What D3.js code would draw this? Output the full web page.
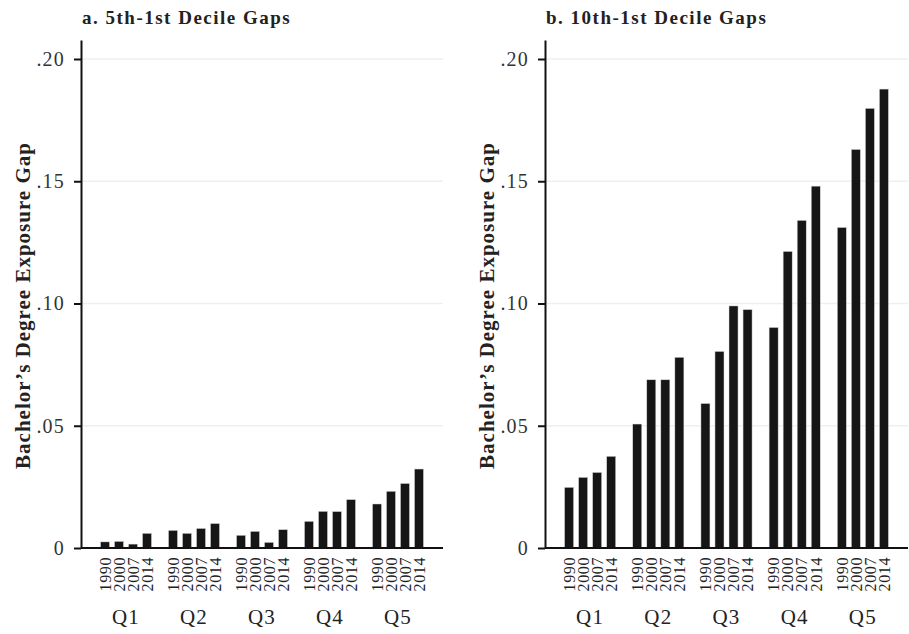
<!DOCTYPE html>
<html>
<head>
<meta charset="utf-8">
<script src="https://cdn.jsdelivr.net/npm/d3@7"></script>
<style>
  body { margin: 0; background: #fff; }
  svg { display: block; }
  text { font-family: "Liberation Serif", "DejaVu Serif", serif; }
</style>
</head>
<body>
<svg id="chart" width="909" height="634"></svg>
<script>
// ---- Data ----
const quintiles = ["Q1", "Q2", "Q3", "Q4", "Q5"];
const years = ["1990", "2000", "2007", "2014"];
const yTicks = [0, 0.05, 0.10, 0.15, 0.20];
const yTickLabels = ["0", ".05", ".10", ".15", ".20"];
const panelTitles = ["a. 5th-1st Decile Gaps", "b. 10th-1st Decile Gaps"];
const yAxisTitle = "Bachelor\u2019s Degree Exposure Gap";

// 5th-1st decile gaps: rows = quintiles, cols = years
const gap5th1st = [
  [0.0025, 0.0027, 0.0016, 0.0060],
  [0.0072, 0.0060, 0.0080, 0.0100],
  [0.0052, 0.0068, 0.0023, 0.0075],
  [0.0109, 0.0150, 0.0149, 0.0198],
  [0.0180, 0.0232, 0.0264, 0.0323]
];
// 10th-1st decile gaps
const gap10th1st = [
  [0.0248, 0.0289, 0.0309, 0.0375],
  [0.0507, 0.0688, 0.0688, 0.0780],
  [0.0591, 0.0804, 0.0990, 0.0975],
  [0.0902, 0.1213, 0.1340, 0.1480],
  [0.1311, 0.1630, 0.1798, 0.1877]
];

const svg = d3.select("#chart");

function drawPanel(opts) {
  const { left, right, data, title } = opts;
  const top = 40, bottom = 548, y20 = 59;
  const yMax = 0.2 * (bottom - top) / (bottom - y20);
  const y = d3.scaleLinear().domain([0, yMax]).range([bottom, top]);

  const g = svg.append("g");

  // gridlines
  g.selectAll("line.grid")
    .data(yTicks.filter(d => d > 0))
    .join("line")
    .attr("x1", left + 1).attr("x2", right)
    .attr("y1", d => y(d)).attr("y2", d => y(d))
    .attr("stroke", "#efefef").attr("stroke-width", 1.5);

  const x0 = d3.scaleBand().domain(quintiles).range([left, right])
    .paddingInner(0.25).paddingOuter(0.287);
  const x1 = d3.scaleBand().domain(years).range([0, x0.bandwidth()])
    .paddingInner(5 / 14).paddingOuter(0);

  // bars
  const groups = g.selectAll("g.grp")
    .data(quintiles)
    .join("g")
    .attr("transform", d => `translate(${x0(d)},0)`);
  groups.selectAll("rect")
    .data((q, i) => years.map((yr, j) => ({ yr, v: data[i][j] })))
    .join("rect")
    .attr("x", d => x1(d.yr))
    .attr("width", x1.bandwidth())
    .attr("y", d => y(d.v))
    .attr("height", d => y(0) - y(d.v))
    .attr("fill", "#161616")
    .attr("stroke", "#d8d8d8").attr("stroke-width", 0.5);

  // year labels (rotated)
  groups.selectAll("text.yr")
    .data(years)
    .join("text")
    .attr("class", "yr")
    .attr("transform", d => `translate(${x1(d) + x1.bandwidth() / 2},${bottom + 9}) rotate(-90)`)
    .attr("dy", "0.36em")
    .attr("text-anchor", "end")
    .attr("font-size", 16)
    .attr("letter-spacing", 0.6)
    .attr("fill", "#222")
    .text(d => d);

  // quintile labels
  g.selectAll("text.q")
    .data(quintiles)
    .join("text")
    .attr("x", d => x0(d) + x0.bandwidth() / 2)
    .attr("y", 624)
    .attr("text-anchor", "middle")
    .attr("font-size", 21)
    .attr("letter-spacing", 1.2)
    .attr("fill", "#222")
    .text(d => d);

  // y axis
  const yAxis = d3.axisLeft(y)
    .tickValues(yTicks)
    .tickFormat((d, i) => yTickLabels[i])
    .tickSize(7)
    .tickPadding(9)
    .tickSizeOuter(0);
  const ax = g.append("g").attr("transform", `translate(${left},0)`).call(yAxis);
  ax.select(".domain").attr("stroke", "#111").attr("stroke-width", 2);
  ax.selectAll(".tick line").attr("stroke", "#111").attr("stroke-width", 2);
  ax.selectAll(".tick text").attr("font-size", 20).attr("fill", "#333")
    .attr("letter-spacing", 1.2)
    .attr("font-family", "Liberation Serif, serif");

  // x baseline
  g.append("line")
    .attr("x1", left).attr("x2", right)
    .attr("y1", y(0)).attr("y2", y(0))
    .attr("stroke", "#111").attr("stroke-width", 2);

  // title
  g.append("text")
    .attr("x", left + 1).attr("y", 24)
    .attr("font-size", 19).attr("font-weight", "bold").attr("fill", "#222")
    .attr("letter-spacing", 1.5)
    .text(title);

  // y axis title
  g.append("text")
    .attr("transform", `translate(${left - 51},${(y(0) + y(0.2)) / 2 + 2}) rotate(-90)`)
    .attr("text-anchor", "middle")
    .attr("font-size", 21).attr("font-weight", "bold").attr("fill", "#222")
    .attr("letter-spacing", 1)
    .text(yAxisTitle);
}

drawPanel({ left: 81, right: 443, data: gap5th1st, title: panelTitles[0] });
drawPanel({ left: 545, right: 908, data: gap10th1st, title: panelTitles[1] });
</script>
</body>
</html>
